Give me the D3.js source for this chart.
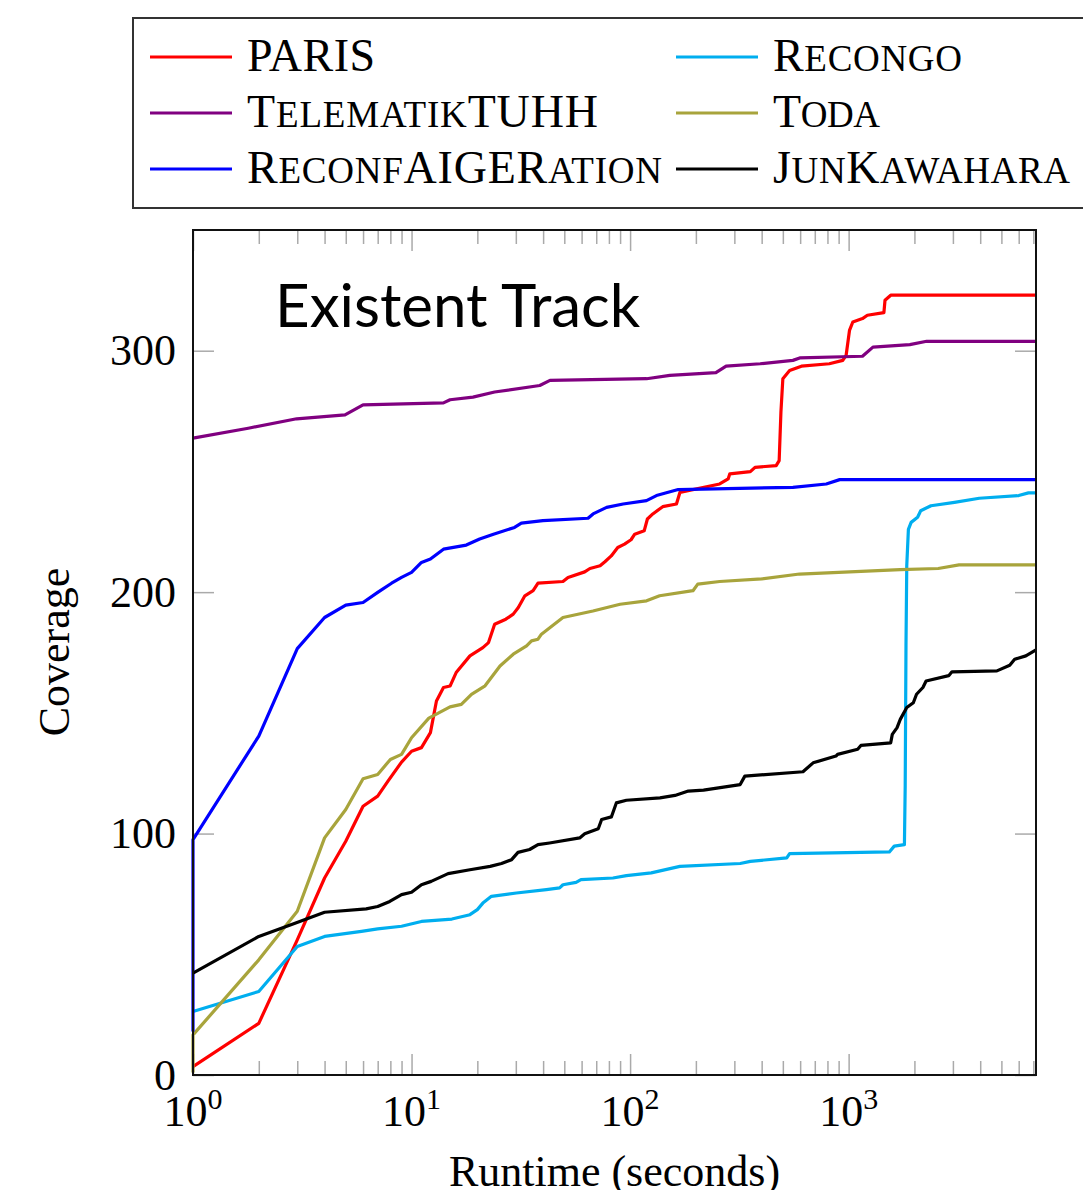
<!DOCTYPE html>
<html>
<head>
<meta charset="utf-8">
<script src="https://cdn.jsdelivr.net/npm/d3@7"></script>
<style>
  body { margin: 0; background: #fff; }
  svg { display: block; }
  .serif { font-family: "Liberation Serif", "DejaVu Serif", serif; }
</style>
</head>
<body>
<div id="chart"></div>
<script>
// series data: [runtime in seconds, coverage]
var paris = [[1,3.5],[2,21.4],[3,56],[4,81.6],[5,96.8],[6,111.3],[7,115.5],[7.8,121.7],[9,129.6],[10,134.1],[11.1,135.6],[12.2,141.8],[13,154.9],[14,160.5],[15,161.1],[16,166.7],[18.5,173.6],[21.2,177],[22.5,179.1],[24,186.7],[27,188.8],[29.2,190.9],[30.8,193.6],[33,198.5],[36,200.6],[37.9,203.7],[49.3,204.4],[52,206.1],[62,208.4],[65.5,209.8],[72.9,210.9],[76.7,212.6],[82,215],[87.8,218.5],[94.3,219.9],[101,221.7],[105,224],[116,225.4],[120,230.3],[127,232.4],[141,235.4],[163,236.5],[169,241.3],[257,244.8],[281,246.9],[286,249],[355,249.9],[373,251.7],[466,252.4],[481,254.5],[490,274.6],[500,288.4],[537,291.8],[608,293.6],[816,294.6],[940,296],[974,298.1],[1009,308.4],[1045,311.9],[1157,313.3],[1218,314.7],[1450,315.8],[1467,320.9],[1558,323],[7200,323]];

var recongo = [[1,26.3],[2,34.6],[3,53.2],[4,57.4],[5.9,59.5],[7,60.5],[9,61.6],[11.1,63.6],[15.3,64.6],[18.5,66.4],[20,68.5],[21.2,71.2],[23.2,74],[30.2,75.4],[41.4,76.8],[47.6,77.5],[49.3,78.8],[56.6,79.8],[59.6,80.9],[83.5,81.6],[96.2,82.6],[125,83.7],[169,86.4],[319,87.6],[355,88.5],[521,89.9],[537,91.7],[1536,92.4],[1617,94.8],[1800,95.4],[1815,120],[1830,178],[1845,211],[1877,226],[1932,228.9],[2068,231],[2137,233.7],[2381,235.8],[3050,237.2],[3960,238.9],[6000,240],[6650,241.1],[7200,241.1]];

var telematik = [[1,263.8],[1.79,267.9],[2.98,271.8],[4.96,273.4],[6,277.6],[14,278.4],[15,279.7],[19.1,280.8],[24,282.9],[38.6,285.6],[43,287.7],[119,288.4],[152,289.8],[247,290.9],[275,293.6],[394,294.6],[556,296],[597,297],[1157,297.7],[1292,301.5],[1905,302.5],[2276,303.9],[7200,303.9]];

var toda = [[1,1],[1,16.6],[2,47.7],[3,67.8],[4,98.2],[5,110],[6,122.7],[7,124.5],[8,130.7],[9,132.8],[10,139.7],[12,147.8],[15,152.5],[16.9,153.5],[18.8,157.7],[21.7,161.2],[25.4,169.4],[29.2,174.3],[33.6,177.7],[35.4,179.8],[37.9,180.5],[39.3,182.6],[49.3,189.5],[67.6,192.2],[90,195],[119,196.4],[136.5,198.5],[194,200.6],[204,203.3],[257,204.4],[400,205.5],[596,207.5],[1720,209.3],[2570,209.8],[3200,211.3],[7200,211.3]];

var reconf = [[1,18],[1,97.5],[2,140.4],[3,176.6],[4,189.5],[5,194.6],[6,195.7],[7,199.9],[8.1,203.7],[9,206.1],[10,208.2],[11.1,212.3],[12.2,213.7],[14,217.8],[17.8,219.5],[20.5,222],[23.7,224],[29.6,226.8],[31.8,228.6],[39.9,229.6],[64.2,230.6],[67.7,232.4],[78.1,235.1],[92.9,236.5],[118.8,237.9],[132,240],[166,242.5],[556,243.4],[790,244.8],[910,246.6],[7200,246.6]];

var junk = [[1,42.2],[2,57.4],[2.93,62.9],[4,67.4],[6.2,68.8],[7,69.8],[7.95,71.9],[9,74.7],[10,75.7],[11.1,78.8],[12.3,80.2],[14.7,83.4],[18.5,85],[22.9,86.4],[25.8,87.6],[28.7,89.2],[30.7,92.2],[34.7,93.4],[37.9,95.4],[42.8,96.1],[58.8,98.2],[62,99.9],[71.5,102],[74.1,105.8],[82.1,106.9],[86.5,112.7],[96.2,113.8],[137,114.8],[160.5,115.8],[184.6,117.6],[216.8,118],[319,120.3],[335,123.8],[618,125.6],[688,129.3],[875,132.1],[890,132.8],[1100,134.9],[1138,136.5],[1558,137.6],[1584,141.1],[1666,143.9],[1723,147.3],[1845,152.2],[1977,154.2],[2045,157.7],[2187,160.5],[2262,163.2],[2870,165.4],[2970,167],[4770,167.4],[5460,169.7],[5750,172.2],[6470,173.6],[7200,176.1]];

var names = ["PARIS", "Recongo", "TelematikTUHH", "Toda", "ReconfAIGERation", "JunKawahara"];
var colors = ["#ff0000", "#00aeef", "#800080", "#a8a43c", "#0000ff", "#000000"];
var seriesData = [paris, recongo, telematik, toda, reconf, junk];
// legend label widths as measured on the reference
var nameWidths = [128, 189, 351, 107, 415, 297];

var xMajor = [1, 10, 100, 1000];
var xMajorExp = ["0", "1", "2", "3"];
var yTicks = [0, 100, 200, 300];

// svg container
var svgWidth = 1083;
var svgHeight = 1190;

var margin = { top: 230, right: 47, bottom: 115, left: 193 };
var chartWidth = svgWidth - margin.left - margin.right;
var chartHeight = svgHeight - margin.top - margin.bottom;

var svg = d3.select("#chart").append("svg")
  .attr("width", svgWidth)
  .attr("height", svgHeight);

var chartGroup = svg.append("g")
  .attr("transform", `translate(${margin.left}, ${margin.top})`);

var x = d3.scaleLog().domain([1, 7200]).range([0, chartWidth]);
var y = d3.scaleLinear().domain([0, 350]).range([chartHeight, 0]);

// minor ticks 2..9 per decade
var xMinor = [];
[1, 10, 100, 1000].forEach(function(d) {
  for (var k = 2; k <= 9; k++) {
    if (d * k <= 7200) xMinor.push(d * k);
  }
});

function tickStyle(g) {
  g.select(".domain").remove();
  g.selectAll(".tick line").attr("stroke", "#aaa").attr("stroke-width", 1.5);
  g.selectAll(".tick text").remove();
}

// bottom + top ticks, pointing inside
chartGroup.append("g").attr("transform", `translate(0, ${chartHeight})`)
  .call(d3.axisBottom(x).tickValues(xMinor).tickSize(-14)).call(tickStyle);
chartGroup.append("g").attr("transform", `translate(0, ${chartHeight})`)
  .call(d3.axisBottom(x).tickValues(xMajor).tickSize(-21)).call(tickStyle);
chartGroup.append("g")
  .call(d3.axisTop(x).tickValues(xMinor).tickSize(-14)).call(tickStyle);
chartGroup.append("g")
  .call(d3.axisTop(x).tickValues(xMajor).tickSize(-21)).call(tickStyle);

// left + right ticks
chartGroup.append("g")
  .call(d3.axisLeft(y).tickValues(yTicks).tickSize(-21)).call(tickStyle);
chartGroup.append("g").attr("transform", `translate(${chartWidth}, 0)`)
  .call(d3.axisRight(y).tickValues(yTicks).tickSize(-21)).call(tickStyle);

// lines
var line = d3.line()
  .x(d => x(d[0]))
  .y(d => y(d[1]));

seriesData.forEach(function(s, i) {
  chartGroup.append("path")
    .datum(s)
    .attr("d", line)
    .attr("fill", "none")
    .attr("stroke", colors[i])
    .attr("stroke-width", 3.2)
    .attr("stroke-linejoin", "round");
});

// frame
chartGroup.append("rect")
  .attr("width", chartWidth)
  .attr("height", chartHeight)
  .attr("fill", "none")
  .attr("stroke", "#111")
  .attr("stroke-width", 2);

// y tick labels
chartGroup.selectAll(".ylab")
  .data(yTicks)
  .enter()
  .append("text")
  .attr("class", "serif")
  .attr("x", -17)
  .attr("y", d => y(d))
  .attr("dy", "0.33em")
  .attr("text-anchor", "end")
  .attr("font-size", "44px")
  .text(d => d);

// x tick labels 10^k
xMajor.forEach(function(d, i) {
  var t = chartGroup.append("text")
    .attr("class", "serif")
    .attr("x", x(d))
    .attr("y", chartHeight + 51)
    .attr("text-anchor", "middle")
    .attr("font-size", "44px");
  t.append("tspan").text("10");
  t.append("tspan").attr("font-size", "30px").attr("dy", "-17").text(xMajorExp[i]);
});

// axis labels
chartGroup.append("text")
  .attr("class", "serif")
  .attr("transform", "rotate(-90)")
  .attr("x", -422)
  .attr("y", -124)
  .attr("text-anchor", "middle")
  .attr("font-size", "44px")
  .text("Coverage");

chartGroup.append("text")
  .attr("class", "serif")
  .attr("x", chartWidth / 2)
  .attr("y", chartHeight + 111)
  .attr("text-anchor", "middle")
  .attr("font-size", "44px")
  .text("Runtime (seconds)");

// title inside the plot
chartGroup.append("text")
  .attr("x", 82)
  .attr("y", 97)
  .attr("font-family", "Lato, sans-serif")
  .attr("font-size", "60px")
  .attr("fill", "#000")
  .text("Existent Track");

// legend
var legend = svg.append("g");
legend.append("rect")
  .attr("x", 133)
  .attr("y", 18)
  .attr("width", 970)
  .attr("height", 190)
  .attr("fill", "#fff")
  .attr("stroke", "#333")
  .attr("stroke-width", 2);

names.forEach(function(name, i) {
  var col = i % 2;
  var row = Math.floor(i / 2);
  var lx = col === 0 ? 150 : 676;
  var ly = 57 + row * 56;
  legend.append("line")
    .attr("x1", lx).attr("x2", lx + 82)
    .attr("y1", ly).attr("y2", ly)
    .attr("stroke", colors[i])
    .attr("stroke-width", 3.2);
  var t = legend.append("text")
    .attr("class", "serif")
    .attr("x", lx + 97)
    .attr("y", ly + 14)
    .attr("font-size", "46px")
    .attr("textLength", nameWidths[i])
    .attr("lengthAdjust", "spacing");
  // small caps: lowercase runs shown as smaller capitals
  name.match(/[A-Z]+|[a-z]+/g).forEach(function(run) {
    var small = run === run.toLowerCase();
    t.append("tspan")
      .attr("font-size", small ? "37px" : "46px")
      .text(run.toUpperCase());
  });
});
</script>
</body>
</html>
